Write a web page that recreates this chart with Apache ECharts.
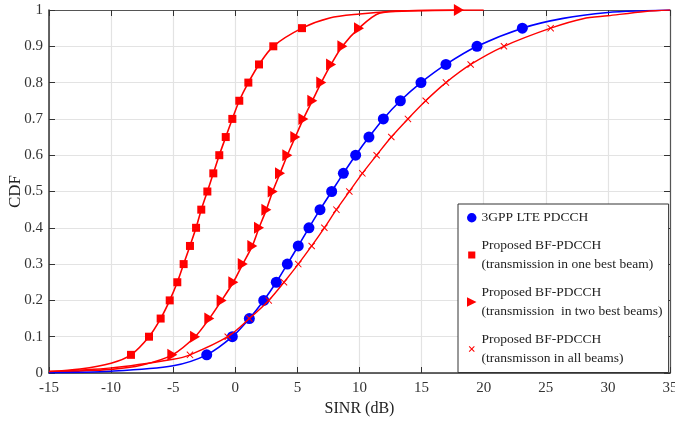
<!DOCTYPE html>
<html><head><meta charset="utf-8">
<script src="https://cdn.jsdelivr.net/npm/echarts@6/dist/echarts.min.js"></script>
<style>html,body{margin:0;padding:0;background:#fff}#c{width:675px;height:430px}</style>
</head><body><div id="c"></div>
<script>
// CDF levels of the marker points
const cdfLevels = [0.05,0.1,0.15,0.2,0.25,0.3,0.35,0.4,0.45,0.5,0.55,0.6,0.65,0.7,0.75,0.8,0.85,0.9,0.95];

// 3GPP LTE PDCCH (circles)
const lteX = [-2.30,-0.24,1.13,2.29,3.30,4.19,5.07,5.93,6.82,7.76,8.70,9.69,10.76,11.92,13.29,14.95,16.96,19.46,23.11];
const lteTailLow = [[-15,0.001],[-10,0.005],[-5,0.02]];
const lteTailHigh = [[26.4,0.977],[30,0.993],[33,0.998],[35,1]];

// one best beam (squares)
const oneX = [-8.40,-6.95,-6.01,-5.28,-4.67,-4.16,-3.65,-3.16,-2.74,-2.25,-1.77,-1.29,-0.77,-0.24,0.32,1.05,1.91,3.06,5.37];
const oneTailLow = [[-15,0.004],[-12.5,0.011],[-10,0.027]];
const oneTailHigh = [[7.6,0.978],[10,0.989],[12.5,0.996],[16,0.999],[20,1]];

// two best beams (triangles)
const twoX = [-5.07,-3.24,-2.09,-1.10,-0.16,0.60,1.37,1.91,2.50,3.01,3.60,4.19,4.83,5.48,6.20,6.92,7.71,8.62,9.96];
const twoTailLow = [[-15,0.003],[-10,0.01],[-7.5,0.022]];
const twoTailHigh = [[11.6,0.991],[14,0.998]];
const twoEnd = [[18,1]];

// all beams (x)
const allX = [-3.65,-0.61,1.13,2.69,3.92,5.07,6.15,7.17,8.14,9.18,10.23,11.38,12.56,13.90,15.33,16.96,18.95,21.63,25.39];
const allTailLow = [[-15,0.004],[-10,0.014],[-5,0.038]];
const allTailHigh = [[28,0.976],[30,0.984],[33,0.996],[35,1]];

const xTicks = {min:-15,max:35,interval:5};
const names = ['3GPP LTE PDCCH','Proposed BF-PDCCH\n(transmission in one best beam)','Proposed BF-PDCCH\n(transmission  in two best beams)','Proposed BF-PDCCH\n(transmisson in all beams)'];

const triPath = 'path://M0,0 L10,5 L0,10 Z';
const xPath = 'path://M0,1 L1,0 L5,4 L9,0 L10,1 L6,5 L10,9 L9,10 L5,6 L1,10 L0,9 L4,5 Z';
// legend variants padded with invisible corner specks so the icons draw smaller
const rectLegend = 'path://M-1,-2 L-0.95,-2 L-1,-1.95 Z M11,12 L10.95,12 L11,11.95 Z M0,0 L10,0 L10,10 L0,10 Z';
const xLegend = 'path://M-3,-3 L-2.95,-3 L-3,-2.95 Z M13,13 L12.95,13 L13,12.95 Z M0,1.2 L1.2,0 L5,3.8 L8.8,0 L10,1.2 L6.2,5 L10,8.8 L8.8,10 L5,6.2 L1.2,10 L0,8.8 L3.8,5 Z';

function build(low, xs, high, extra){
  const d = [];
  low.forEach(p=>d.push({value:p,symbol:'none'}));
  xs.forEach((x,i)=>d.push({value:[x,cdfLevels[i]]}));
  high.forEach(p=>d.push({value:p,symbol:'none'}));
  (extra||[]).forEach(p=>d.push({value:p}));
  return d;
}

const serif = 'Liberation Serif';
const chart = echarts.init(document.getElementById('c'));
chart.setOption({
  animation:false,
  backgroundColor:'#fff',
  grid:{left:49,right:5,top:10,bottom:57,containLabel:false,outerBoundsMode:'none'},
  xAxis:[{
    type:'value',min:xTicks.min,max:xTicks.max,interval:xTicks.interval,
    name:'SINR (dB)',nameLocation:'middle',nameGap:28,nameMoveOverlap:false,
    nameTextStyle:{fontFamily:serif,fontSize:16,color:'#222'},
    axisLine:{onZero:false,lineStyle:{color:'#333',width:1.5}},
    axisTick:{show:true,inside:true,length:6,lineStyle:{color:'#333'}},
    axisLabel:{fontFamily:serif,fontSize:15,color:'#333',margin:8},
    splitLine:{show:true,lineStyle:{color:'#e3e3e3',width:1.2}}
  },{
    type:'value',position:'top',min:xTicks.min,max:xTicks.max,interval:xTicks.interval,
    axisLine:{show:true,onZero:false,lineStyle:{color:'#555',width:1.2}},
    axisTick:{show:true,inside:true,length:6,lineStyle:{color:'#333'}},
    axisLabel:{show:false},splitLine:{show:false}
  }],
  yAxis:[{
    type:'value',min:0,max:1,interval:0.1,
    name:'CDF',nameLocation:'middle',nameGap:25,nameRotate:90,nameMoveOverlap:false,
    nameTextStyle:{fontFamily:serif,fontSize:17,color:'#222'},
    axisLine:{show:true,onZero:false,lineStyle:{color:'#333',width:1.5}},
    axisTick:{show:true,inside:true,length:6,lineStyle:{color:'#333'}},
    axisLabel:{fontFamily:serif,fontSize:15,color:'#333',margin:6},
    splitLine:{show:true,lineStyle:{color:'#e3e3e3',width:1.2}}
  },{
    type:'value',position:'right',min:0,max:1,interval:0.1,
    axisLine:{show:true,onZero:false,lineStyle:{color:'#555',width:1.2}},
    axisTick:{show:true,inside:true,length:6,lineStyle:{color:'#333'}},
    axisLabel:{show:false},splitLine:{show:false}
  }],
  legend:{
    orient:'vertical',left:458,top:204,width:200,
    backgroundColor:'#fff',borderColor:'#333',borderWidth:1,borderRadius:0,
    padding:[4,6,4,9],itemGap:8,itemWidth:9.5,itemHeight:10,
    textStyle:{fontFamily:serif,fontSize:13.5,color:'#222',lineHeight:19.5},
    data:[
      {name:names[0],icon:'circle',itemStyle:{color:'#0000ff'}},
      {name:names[1],icon:rectLegend,itemStyle:{color:'#ff0000'}},
      {name:names[2],icon:triPath,itemStyle:{color:'#ff0000'}},
      {name:names[3],icon:xLegend,itemStyle:{color:'#ff0000'}}
    ]
  },
  series:[
    {name:names[0],type:'line',smooth:0.3,data:build(lteTailLow,lteX,lteTailHigh),
     symbol:'circle',symbolSize:11,showAllSymbol:true,
     lineStyle:{color:'#0000ff',width:1.6},itemStyle:{color:'#0000ff'},z:3},
    {name:names[1],type:'line',smooth:0.3,data:build(oneTailLow,oneX,oneTailHigh),
     symbol:'rect',symbolSize:8,showAllSymbol:true,
     lineStyle:{color:'#ff0000',width:1.6},itemStyle:{color:'#ff0000'},z:2},
    {name:names[2],type:'line',smooth:0.3,data:build(twoTailLow,twoX,twoTailHigh,twoEnd),
     symbol:triPath,symbolSize:[10,12],showAllSymbol:true,
     lineStyle:{color:'#ff0000',width:1.6},itemStyle:{color:'#ff0000'},z:2},
    {name:names[3],type:'line',smooth:0.3,data:build(allTailLow,allX,allTailHigh),
     symbol:xPath,symbolSize:7,showAllSymbol:true,
     lineStyle:{color:'#ff0000',width:1.4},itemStyle:{color:'#ff0000'},z:4}
  ]
});
</script></body></html>
